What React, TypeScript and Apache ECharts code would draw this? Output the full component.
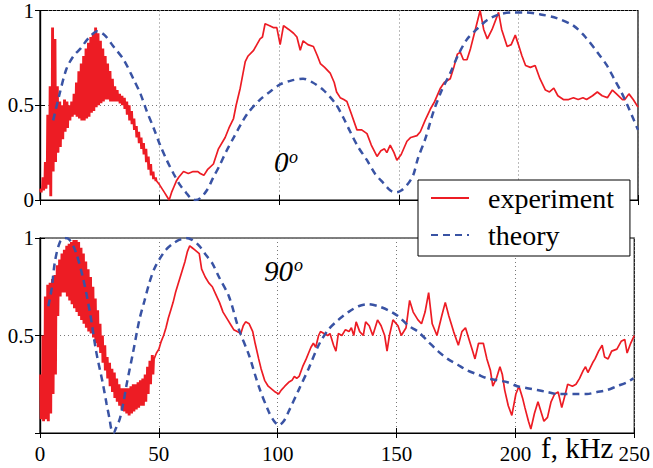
import React, { useEffect, useRef } from "react";
import * as echarts from "echarts";

const FONT = "Liberation Serif";
const RED = "#ed1c24";
const BLUE = "#3953a4";

const xMin = 0;
const xMax = 250;
const xStep = 50;

// Top (0°): noisy low-frequency band, read as upper / lower envelopes at x = 0..48
const topNoisyUpper = [0.06, 0.12, 0.2, 0.45, 0.6, 0.91, 0.85, 0.6, 0.52, 0.5, 0.53, 0.52, 0.5, 0.52, 0.56, 0.62, 0.68, 0.72, 0.76, 0.8, 0.83, 0.86, 0.88, 0.91, 0.88, 0.84, 0.8, 0.76, 0.72, 0.68, 0.64, 0.6, 0.58, 0.56, 0.55, 0.54, 0.52, 0.5, 0.47, 0.43, 0.39, 0.36, 0.33, 0.3, 0.27, 0.23, 0.19, 0.15, 0.12];
const topNoisyLower = [0.04, 0.05, 0.06, 0.08, 0.02, 0.15, 0.2, 0.25, 0.28, 0.32, 0.36, 0.38, 0.42, 0.44, 0.45, 0.44, 0.43, 0.42, 0.42, 0.43, 0.44, 0.46, 0.47, 0.49, 0.5, 0.51, 0.52, 0.53, 0.53, 0.52, 0.52, 0.52, 0.52, 0.51, 0.5, 0.48, 0.45, 0.42, 0.4, 0.37, 0.33, 0.3, 0.27, 0.24, 0.2, 0.16, 0.13, 0.11, 0.1];
const topExpTail: [number, number][] = [
  [49, 0.1], [50, 0.08], [51, 0.06], [52, 0.04], [53, 0.02], [54, 0.0], [55, 0.04], [56, 0.07], [57, 0.1], [58, 0.12], [60, 0.15], [62, 0.14], [64, 0.15], [66, 0.15], [67, 0.14], [68.5, 0.13], [70, 0.16], [72.5, 0.19], [74.6, 0.27], [77.4, 0.33], [79, 0.38], [80.9, 0.43], [82, 0.5], [83.7, 0.59], [85.8, 0.73], [87, 0.76], [89.3, 0.79], [92, 0.85], [93, 0.86], [94.1, 0.93], [96, 0.92], [97.5, 0.91], [99, 0.91], [100.4, 0.82], [101.8, 0.92], [104, 0.9], [106, 0.88], [107.4, 0.86], [108.8, 0.79], [110, 0.84], [112, 0.82], [114.3, 0.81], [116, 0.76], [117.2, 0.72], [119, 0.7], [121.3, 0.67], [123, 0.62], [124, 0.57], [125.5, 0.54], [127, 0.53], [128.3, 0.52], [130, 0.46], [132.5, 0.37], [134.5, 0.37], [136.7, 0.35], [138.5, 0.29], [140.9, 0.23], [142.5, 0.26], [144, 0.27], [145, 0.25], [146.4, 0.29], [148, 0.25], [149.2, 0.21], [151, 0.24], [153.4, 0.31], [155, 0.33], [157.6, 0.34], [159, 0.36], [161, 0.42], [163.2, 0.48], [165, 0.52], [167.4, 0.59], [169, 0.62], [171.5, 0.64], [173, 0.7], [174.5, 0.77], [175.7, 0.78], [177, 0.74], [178.5, 0.74], [180, 0.8], [182, 0.9], [184, 1.0], [185.5, 0.9], [187, 0.85], [189, 0.9], [191.7, 0.99], [193, 0.9], [195.3, 0.81], [197, 0.82], [198.7, 0.87], [200, 0.82], [201.5, 0.76], [203, 0.71], [205, 0.7], [207, 0.71], [209, 0.64], [211.3, 0.58], [213, 0.57], [214.8, 0.59], [216.5, 0.55], [218.8, 0.53], [221, 0.53], [223, 0.54], [225, 0.53], [227, 0.54], [228.5, 0.53], [231, 0.55], [233, 0.57], [235, 0.55], [237.2, 0.54], [239.3, 0.58], [241, 0.56], [243.5, 0.53], [244.5, 0.53], [246.2, 0.56], [248, 0.53], [250, 0.49],
];
const topTheory: [number, number][] = [
  [5.5, 0.42], [8, 0.55], [11, 0.69], [14, 0.76], [17, 0.8], [20, 0.85], [24, 0.89], [27, 0.87], [30.7, 0.81], [35, 0.74], [39, 0.64], [42, 0.56], [44.6, 0.47], [47.5, 0.38], [50.2, 0.29], [53, 0.21], [55.8, 0.14], [58.5, 0.08], [61, 0.04], [63, 0.01], [65, 0.0], [67, 0.01], [69.7, 0.05], [72.5, 0.12], [75, 0.18], [78, 0.26], [81, 0.33], [84, 0.4], [87, 0.46], [92, 0.53], [96, 0.57], [100.4, 0.61], [105, 0.63], [110, 0.64], [114, 0.62], [118.5, 0.58], [121.5, 0.54], [124, 0.5], [127, 0.43], [129.7, 0.36], [133, 0.28], [136.7, 0.21], [140, 0.14], [143.5, 0.09], [146.5, 0.05], [149, 0.04], [151, 0.05], [153.5, 0.08], [156, 0.13], [158, 0.22], [161, 0.32], [164.6, 0.47], [168, 0.58], [171.5, 0.67], [175, 0.77], [178.6, 0.85], [182.5, 0.9], [187, 0.95], [192, 0.98], [198, 0.99], [203, 0.99], [209, 0.98], [216, 0.96], [223, 0.92], [228, 0.86], [233, 0.78], [237, 0.71], [240, 0.64], [243, 0.57], [245.6, 0.5], [248, 0.43], [250, 0.37],
];

// Bottom (90°): noisy band envelopes at x = 0..47
const botNoisyUpper = [0.3, 0.5, 0.7, 0.76, 0.77, 0.79, 0.81, 0.86, 0.89, 0.92, 0.94, 0.96, 0.97, 0.98, 0.99, 0.99, 0.98, 0.95, 0.92, 0.88, 0.84, 0.8, 0.75, 0.69, 0.63, 0.56, 0.5, 0.45, 0.39, 0.36, 0.33, 0.31, 0.28, 0.25, 0.23, 0.23, 0.23, 0.23, 0.24, 0.25, 0.25, 0.26, 0.27, 0.28, 0.3, 0.34, 0.37, 0.4];
const botNoisyLower = [0.07, 0.06, 0.07, 0.06, 0.1, 0.2, 0.3, 0.6, 0.7, 0.72, 0.72, 0.7, 0.68, 0.66, 0.64, 0.62, 0.6, 0.58, 0.56, 0.54, 0.52, 0.51, 0.49, 0.46, 0.44, 0.41, 0.36, 0.32, 0.28, 0.24, 0.21, 0.18, 0.16, 0.14, 0.12, 0.11, 0.1, 0.09, 0.1, 0.11, 0.12, 0.13, 0.14, 0.14, 0.16, 0.2, 0.25, 0.3];
const botExpTail: [number, number][] = [
  [48, 0.38], [49, 0.41], [50, 0.43], [51, 0.47], [52, 0.5], [53, 0.54], [54, 0.59], [55, 0.63], [56, 0.67], [57, 0.72], [58, 0.76], [59, 0.8], [60, 0.84], [61, 0.88], [62, 0.93], [63, 0.96], [64, 0.95], [65, 0.94], [66, 0.93], [67, 0.92], [68, 0.84], [69.5, 0.8], [71, 0.77], [72.5, 0.75], [74, 0.71], [75.5, 0.67], [77, 0.62], [79, 0.58], [80.5, 0.55], [81.5, 0.53], [83, 0.52], [84.5, 0.51], [85.5, 0.55], [86.5, 0.57], [88, 0.56], [89.5, 0.52], [90.5, 0.46], [92, 0.38], [93, 0.33], [94.5, 0.27], [96, 0.24], [98, 0.22], [99, 0.21], [100.4, 0.2], [101.5, 0.22], [103, 0.24], [104.6, 0.26], [106, 0.27], [107, 0.29], [108, 0.28], [109, 0.29], [110.5, 0.34], [112, 0.38], [113, 0.41], [114, 0.44], [115, 0.46], [116, 0.44], [117.2, 0.5], [118, 0.52], [119.5, 0.51], [121, 0.5], [122, 0.51], [123.5, 0.45], [124.5, 0.42], [125.5, 0.51], [127, 0.5], [128.5, 0.53], [130, 0.52], [131, 0.54], [132, 0.5], [133, 0.57], [134.5, 0.52], [136, 0.5], [137, 0.57], [138.5, 0.55], [140, 0.5], [142, 0.58], [143.5, 0.55], [145, 0.5], [146, 0.42], [147, 0.5], [148.5, 0.58], [150.6, 0.55], [152, 0.5], [154, 0.54], [155.5, 0.68], [157, 0.62], [159, 0.58], [160.5, 0.56], [162, 0.62], [163.5, 0.72], [165, 0.56], [167, 0.5], [169, 0.6], [170.5, 0.67], [172, 0.6], [174, 0.52], [176, 0.45], [177.5, 0.52], [179, 0.54], [180.5, 0.48], [182, 0.42], [183, 0.38], [184.5, 0.46], [186.5, 0.46], [188, 0.38], [189.5, 0.32], [190.5, 0.24], [192, 0.28], [193.5, 0.34], [194.5, 0.3], [195.5, 0.22], [197, 0.14], [198.5, 0.09], [200.2, 0.2], [201.5, 0.24], [203, 0.18], [204, 0.13], [205.5, 0.06], [206.5, 0.02], [208, 0.1], [209.5, 0.16], [211, 0.1], [212, 0.06], [213.5, 0.08], [215, 0.16], [216.5, 0.2], [218, 0.21], [219.5, 0.13], [221, 0.2], [222, 0.25], [224, 0.24], [225.5, 0.25], [227, 0.28], [228.5, 0.32], [229.5, 0.34], [230.5, 0.31], [232.5, 0.36], [233.5, 0.38], [235, 0.42], [236.5, 0.45], [237.5, 0.39], [239, 0.38], [240.5, 0.42], [242.7, 0.43], [244.5, 0.47], [246, 0.48], [247, 0.41], [248.5, 0.46], [250, 0.5],
];
const botTheory: [number, number][] = [
  [3.5, 0.65], [4.9, 0.74], [6.3, 0.88], [8.4, 0.98], [10.5, 1.0], [12.5, 0.99], [15, 0.93], [18, 0.8], [21, 0.62], [23.6, 0.42], [26.5, 0.25], [28, 0.15], [29.3, 0.07], [30, 0.02], [31, 0.0], [31.8, 0.02], [33.5, 0.07], [35, 0.15], [36.3, 0.24], [39.1, 0.41], [41.8, 0.58], [44, 0.68], [46, 0.77], [48, 0.84], [50.2, 0.89], [53, 0.94], [55.8, 0.97], [58.5, 0.99], [61.4, 1.0], [64, 0.99], [67, 0.96], [70, 0.91], [72.5, 0.87], [75.3, 0.8], [79.5, 0.7], [83.7, 0.53], [87.9, 0.4], [92, 0.24], [96.2, 0.11], [98.5, 0.06], [100.4, 0.04], [102.5, 0.06], [104.6, 0.11], [108.8, 0.22], [113, 0.33], [117.2, 0.45], [121.3, 0.53], [125.5, 0.58], [129.7, 0.62], [134, 0.65], [138.1, 0.66], [142.3, 0.65], [146.4, 0.63], [150.6, 0.6], [155, 0.55], [159, 0.52], [163.2, 0.47], [167.4, 0.42], [171.5, 0.38], [175.7, 0.35], [179.9, 0.32], [184.1, 0.3], [188.3, 0.28], [192.5, 0.27], [196.7, 0.26], [200.8, 0.24], [205, 0.23], [209.2, 0.22], [213.4, 0.21], [217.6, 0.2], [221.8, 0.2], [226, 0.2], [230.1, 0.2], [234.3, 0.21], [238.5, 0.22], [242.7, 0.24], [246.9, 0.26], [249.7, 0.28],
];

const legendNames = ["experiment", "theory"];
const panelLabels = ["0", "90"];

// Dense oscillation: alternate between the read upper and lower envelope values
function zigzag(upper: number[], lower: number[], tail: [number, number][]) {
  const out: [number, number][] = [];
  upper.forEach((u, i) => {
    out.push([i, u]);
    out.push([i + 0.25, lower[i]]);
    out.push([i + 0.5, u]);
    out.push([i + 0.75, lower[i]]);
  });
  return out.concat(tail);
}

export default function App() {
  const ref = useRef<HTMLDivElement>(null);
  useEffect(() => {
    const chart = echarts.init(ref.current!, null, { renderer: "svg" });
    const axisLine = { show: true, lineStyle: { color: "#000", width: 1.2 } };
    const tick = { show: true, inside: true, length: 5, lineStyle: { color: "#000", width: 1 } };
    const split = { show: true, lineStyle: { color: "#777", type: [1, 3] as any, width: 1 } };
    const labelStyle = { color: "#000", fontFamily: FONT, fontSize: 21 };
    const xBase = { type: "value", min: xMin, max: xMax, interval: xStep, axisLine, axisTick: tick };
    const yBase = { type: "value", min: 0, max: 1, interval: 0.5, axisLine, axisTick: tick };
    const option: any = {
      animation: false,
      textStyle: { fontFamily: FONT },
      grid: [
        { left: 40, right: 15, top: 7, height: 193, show: true, borderColor: "#000", borderWidth: 1.2 },
        { left: 40, right: 15, top: 238, height: 195, show: true, borderColor: "#000", borderWidth: 1.2 },
      ],
      xAxis: [
        { ...xBase, gridIndex: 0, axisLabel: { show: false }, splitLine: split },
        { ...xBase, gridIndex: 1, axisLabel: { ...labelStyle, margin: 10 }, splitLine: split },
        { ...xBase, gridIndex: 0, position: "top", axisLabel: { show: false }, splitLine: { show: false } },
        { ...xBase, gridIndex: 1, position: "top", axisLabel: { show: false }, splitLine: { show: false } },
      ],
      yAxis: [
        { ...yBase, gridIndex: 0, axisLabel: { ...labelStyle, margin: 6 }, splitLine: split },
        {
          ...yBase, gridIndex: 1, splitLine: split,
          axisLabel: { ...labelStyle, margin: 6, formatter: (v: number) => (v === 0 ? "" : String(v)) },
        },
        { ...yBase, gridIndex: 0, position: "right", axisLabel: { show: false }, splitLine: { show: false } },
        { ...yBase, gridIndex: 1, position: "right", axisLabel: { show: false }, splitLine: { show: false } },
      ],
      legend: {
        data: legendNames,
        orient: "vertical",
        left: 418,
        top: 180,
        backgroundColor: "#fff",
        borderColor: "#000",
        borderWidth: 1,
        padding: [4, 16, 7, 12],
        itemWidth: 38,
        itemHeight: 14,
        itemGap: 9,
        itemStyle: { opacity: 0 },
        textStyle: { fontFamily: FONT, fontSize: 28, color: "#000", padding: [0, 0, 0, 14] },
      },
      series: [
        {
          name: legendNames[0], type: "line", xAxisIndex: 0, yAxisIndex: 0, symbol: "none",
          data: zigzag(topNoisyUpper, topNoisyLower, topExpTail),
          lineStyle: { color: RED, width: 1.7 }, itemStyle: { color: RED }, z: 3,
        },
        {
          name: legendNames[1], type: "line", xAxisIndex: 0, yAxisIndex: 0, symbol: "none", smooth: 0.3,
          data: topTheory,
          lineStyle: { color: BLUE, width: 2.5, type: [7, 5] }, itemStyle: { color: BLUE }, z: 4,
        },
        {
          name: legendNames[0], type: "line", xAxisIndex: 1, yAxisIndex: 1, symbol: "none",
          data: zigzag(botNoisyUpper, botNoisyLower, botExpTail),
          lineStyle: { color: RED, width: 1.7 }, itemStyle: { color: RED }, z: 3,
        },
        {
          name: legendNames[1], type: "line", xAxisIndex: 1, yAxisIndex: 1, symbol: "none", smooth: 0.3,
          data: botTheory,
          lineStyle: { color: BLUE, width: 2.5, type: [7, 5] }, itemStyle: { color: BLUE }, z: 4,
        },
      ],
      graphic: [
        { type: "text", left: 274, top: 147, z: 10, style: { text: panelLabels[0], fontFamily: FONT, fontStyle: "italic", fontSize: 29, fill: "#000" } },
        { type: "text", left: 289, top: 148, z: 10, style: { text: "o", fontFamily: FONT, fontStyle: "italic", fontSize: 18, fill: "#000" } },
        { type: "text", left: 264, top: 256, z: 10, style: { text: panelLabels[1], fontFamily: FONT, fontStyle: "italic", fontSize: 29, fill: "#000" } },
        { type: "text", left: 294, top: 256, z: 10, style: { text: "o", fontFamily: FONT, fontStyle: "italic", fontSize: 18, fill: "#000" } },
        { type: "text", left: 541, top: 433, z: 10, style: { text: "f, kHz", fontFamily: FONT, fontSize: 29, fill: "#000" } },
      ],
    };
    chart.setOption(option);
    return () => chart.dispose();
  }, []);
  return <div ref={ref} style={{ position: "absolute", left: 0, top: 0, width: 653, height: 468 }} />;
}
